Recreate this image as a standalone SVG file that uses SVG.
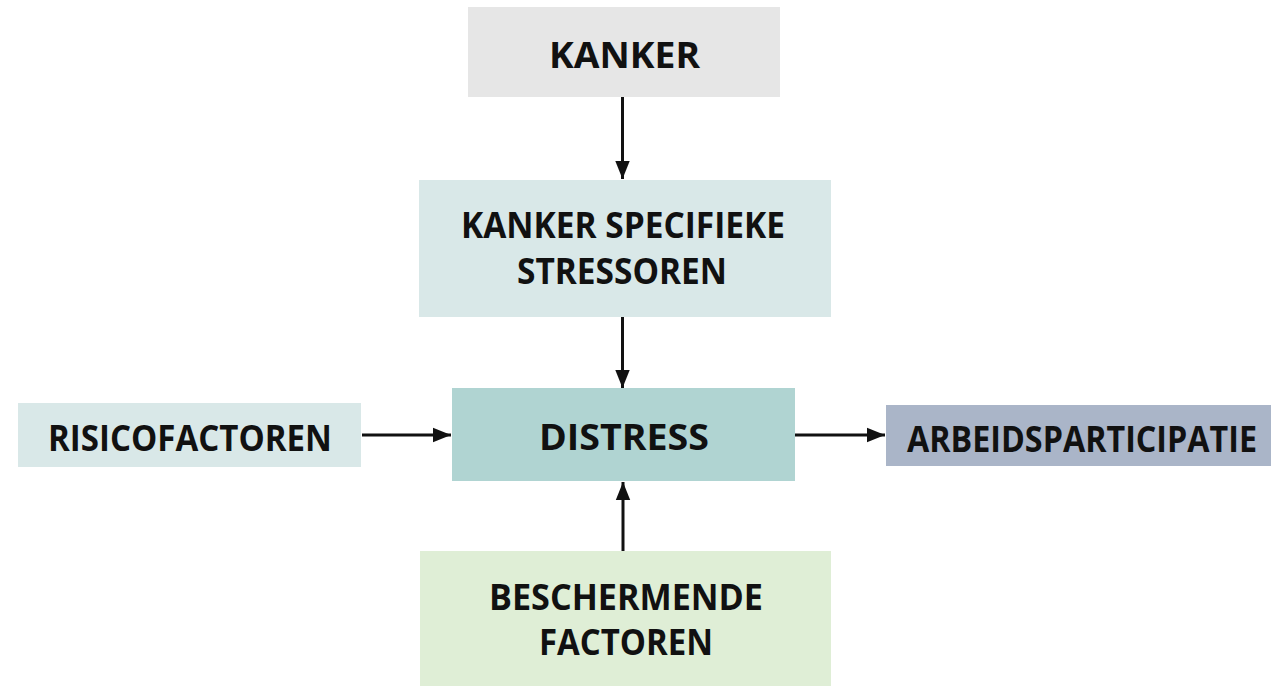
<svg xmlns="http://www.w3.org/2000/svg" width="1271" height="686" viewBox="0 0 1271 686">
  <style>
    .lbl { font-family: "Open Sans", "Liberation Sans", sans-serif; font-weight: 700; font-size: 36px; fill: #111; }
    .wire { stroke: #111; stroke-width: 3; fill: none; marker-end: url(#head); }
  </style>
  <defs>
    <marker id="head" viewBox="0 0 10 10" refX="10" refY="5" markerWidth="6" markerHeight="6" markerUnits="strokeWidth" orient="auto">
      <path d="M0,1 L10,5 L0,9 Z" fill="#111"/>
    </marker>
  </defs>
  <rect width="1271" height="686" fill="#ffffff"/>

  <g id="kanker">
    <rect x="468" y="7" width="312" height="90" fill="#e6e6e6"/>
    <text class="lbl" x="549" y="68" textLength="151" lengthAdjust="spacingAndGlyphs">KANKER</text>
  </g>

  <g id="stressoren">
    <rect x="419" y="180" width="412" height="137" fill="#d9e8e8"/>
    <text class="lbl" x="461" y="238" textLength="324" lengthAdjust="spacingAndGlyphs">KANKER SPECIFIEKE</text>
    <text class="lbl" x="517" y="284" textLength="210" lengthAdjust="spacingAndGlyphs">STRESSOREN</text>
  </g>

  <g id="risicofactoren">
    <rect x="18" y="403" width="343" height="64" fill="#d9e8e8"/>
    <text class="lbl" x="48" y="451" textLength="284" lengthAdjust="spacingAndGlyphs">RISICOFACTOREN</text>
  </g>

  <g id="distress">
    <rect x="452" y="388" width="343" height="93" fill="#b0d4d2"/>
    <text class="lbl" x="539" y="450" textLength="170" lengthAdjust="spacingAndGlyphs">DISTRESS</text>
  </g>

  <g id="arbeidsparticipatie">
    <rect x="886" y="405" width="385" height="61" fill="#aab5c8"/>
    <text class="lbl" x="907" y="452" textLength="350" lengthAdjust="spacingAndGlyphs">ARBEIDSPARTICIPATIE</text>
  </g>

  <g id="beschermende">
    <rect x="420" y="551" width="411" height="135" fill="#dfeed6"/>
    <text class="lbl" x="489" y="610" textLength="274" lengthAdjust="spacingAndGlyphs">BESCHERMENDE</text>
    <text class="lbl" x="539" y="655" textLength="174" lengthAdjust="spacingAndGlyphs">FACTOREN</text>
  </g>

  <g id="connectors">
    <line class="wire" x1="622.5" y1="97" x2="622.5" y2="179"/>
    <line class="wire" x1="622.5" y1="317" x2="622.5" y2="388"/>
    <line class="wire" x1="362" y1="435" x2="451" y2="435"/>
    <line class="wire" x1="795" y1="435" x2="885" y2="435"/>
    <line class="wire" x1="623" y1="551" x2="623" y2="482"/>
  </g>
</svg>
